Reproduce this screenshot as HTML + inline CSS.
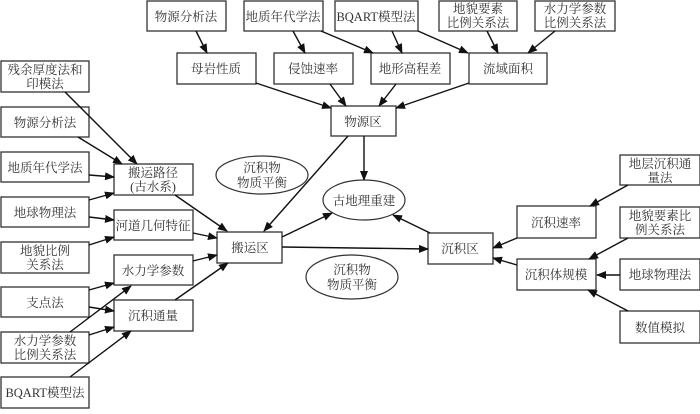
<!DOCTYPE html><html><head><meta charset="utf-8"><style>
body{margin:0;background:#fff;width:700px;height:409px;overflow:hidden}
svg text{font-family:"Liberation Serif","Noto Serif CJK SC",serif;font-size:12.5px;fill:#333;text-anchor:middle}
rect{fill:#fff;stroke:#333;stroke-width:1.3}
ellipse{fill:#fff;stroke:#333;stroke-width:1.2}
line{stroke:#111;stroke-width:1.4;marker-end:url(#a)}
</style></head><body>
<svg width="700" height="409" viewBox="0 0 700 409">
<defs><marker id="a" markerWidth="10" markerHeight="8" refX="9" refY="4" orient="auto" markerUnits="userSpaceOnUse"><path d="M0,0 L10,4 L0,8 Z" fill="#111"/></marker></defs>
<g>
<rect x="147" y="1" width="79" height="30"/><text x="186" y="21">物源分析法</text>
<rect x="244" y="1" width="79" height="30"/><text x="283" y="21">地质年代学法</text>
<rect x="335" y="1" width="83" height="30"/><text x="376" y="21">BQART模型法</text>
<rect x="439" y="1" width="78" height="30"/><text x="478" y="13">地貌要素</text><text x="478" y="27">比例关系法</text>
<rect x="535" y="1" width="80" height="30"/><text x="575" y="13">水力学参数</text><text x="575" y="27">比例关系法</text>
<rect x="177" y="53" width="79" height="31"/><text x="216" y="73">母岩性质</text>
<rect x="274" y="53" width="79" height="31"/><text x="313" y="73">侵蚀速率</text>
<rect x="371" y="53" width="79" height="31"/><text x="410" y="73">地形高程差</text>
<rect x="469" y="53" width="78" height="31"/><text x="508" y="73">流域面积</text>
<rect x="331" y="106" width="65" height="30"/><text x="363" y="126">物源区</text>
<ellipse cx="262" cy="175" rx="46" ry="19"/><text x="262" y="172">沉积物</text><text x="262" y="187">物质平衡</text>
<ellipse cx="364" cy="200" rx="41" ry="20"/><text x="364" y="205">古地理重建</text>
<ellipse cx="352" cy="277" rx="46" ry="22"/><text x="352" y="274">沉积物</text><text x="352" y="289">物质平衡</text>
<rect x="1" y="61" width="88" height="31"/><text x="45" y="74">残余厚度法和</text><text x="45" y="88">印模法</text>
<rect x="1" y="107" width="88" height="30"/><text x="45" y="127">物源分析法</text>
<rect x="1" y="152" width="88" height="30"/><text x="45" y="172">地质年代学法</text>
<rect x="1" y="197" width="88" height="30"/><text x="45" y="217">地球物理法</text>
<rect x="1" y="242" width="88" height="31"/><text x="45" y="255">地貌比例</text><text x="45" y="269">关系法</text>
<rect x="1" y="287" width="88" height="30"/><text x="45" y="307">支点法</text>
<rect x="1" y="332" width="88" height="31"/><text x="45" y="345">水力学参数</text><text x="45" y="359">比例关系法</text>
<rect x="1" y="377" width="88" height="31"/><text x="45" y="397">BQART模型法</text>
<rect x="114" y="164" width="79" height="31"/><text x="153" y="177">搬运路径</text><text x="153" y="191">(古水系)</text>
<rect x="114" y="210" width="79" height="30"/><text x="153" y="230">河道几何特征</text>
<rect x="114" y="255" width="79" height="30"/><text x="153" y="275">水力学参数</text>
<rect x="114" y="300" width="79" height="31"/><text x="153" y="320">沉积通量</text>
<rect x="217" y="232" width="65" height="31"/><text x="250" y="252">搬运区</text>
<rect x="428" y="233" width="65" height="31"/><text x="460" y="253">沉积区</text>
<rect x="517" y="206" width="79" height="32"/><text x="556" y="227">沉积速率</text>
<rect x="517" y="259" width="79" height="31"/><text x="556" y="279">沉积体规模</text>
<rect x="620" y="155" width="80" height="30"/><text x="660" y="168">地层沉积通</text><text x="660" y="182">量法</text>
<rect x="620" y="207" width="80" height="31"/><text x="660" y="220">地貌要素比</text><text x="660" y="234">例关系法</text>
<rect x="620" y="259" width="80" height="31"/><text x="660" y="279">地球物理法</text>
<rect x="620" y="311" width="80" height="32"/><text x="660" y="332">数值模拟</text>
</g>
<g>
<line x1="196" y1="31" x2="207" y2="53"/>
<line x1="293" y1="31" x2="305" y2="53"/>
<line x1="321" y1="31" x2="373" y2="53"/>
<line x1="392" y1="31" x2="402" y2="53"/>
<line x1="418" y1="31" x2="468" y2="53"/>
<line x1="487" y1="31" x2="498" y2="53"/>
<line x1="555" y1="31" x2="528" y2="53"/>
<line x1="256" y1="83" x2="331" y2="108"/>
<line x1="330" y1="84" x2="346" y2="106"/>
<line x1="396" y1="84" x2="379" y2="106"/>
<line x1="469" y1="83" x2="396" y2="108"/>
<line x1="364" y1="136" x2="364" y2="180"/>
<line x1="348" y1="136" x2="264" y2="231"/>
<line x1="65" y1="92" x2="137" y2="164"/>
<line x1="78" y1="137" x2="122" y2="164"/>
<line x1="89" y1="175" x2="114" y2="177"/>
<line x1="89" y1="200" x2="114" y2="193"/>
<line x1="89" y1="217" x2="114" y2="220"/>
<line x1="89" y1="245" x2="114" y2="237"/>
<line x1="175" y1="195" x2="227" y2="231"/>
<line x1="193" y1="233" x2="217" y2="238"/>
<line x1="193" y1="261" x2="217" y2="255"/>
<line x1="89" y1="290" x2="114" y2="283"/>
<line x1="89" y1="307" x2="114" y2="311"/>
<line x1="70" y1="332" x2="131" y2="286"/>
<line x1="89" y1="335" x2="114" y2="327"/>
<line x1="70" y1="377" x2="131" y2="331"/>
<line x1="175" y1="300" x2="228" y2="263"/>
<line x1="282" y1="237" x2="332" y2="213"/>
<line x1="282" y1="247" x2="428" y2="249"/>
<line x1="430" y1="233" x2="393" y2="215"/>
<line x1="517" y1="238" x2="493" y2="248"/>
<line x1="517" y1="265" x2="493" y2="258"/>
<line x1="628" y1="185" x2="590" y2="206"/>
<line x1="628" y1="238" x2="589" y2="259"/>
<line x1="620" y1="275" x2="597" y2="275"/>
<line x1="628" y1="311" x2="588" y2="290"/>
</g>
</svg></body></html>
